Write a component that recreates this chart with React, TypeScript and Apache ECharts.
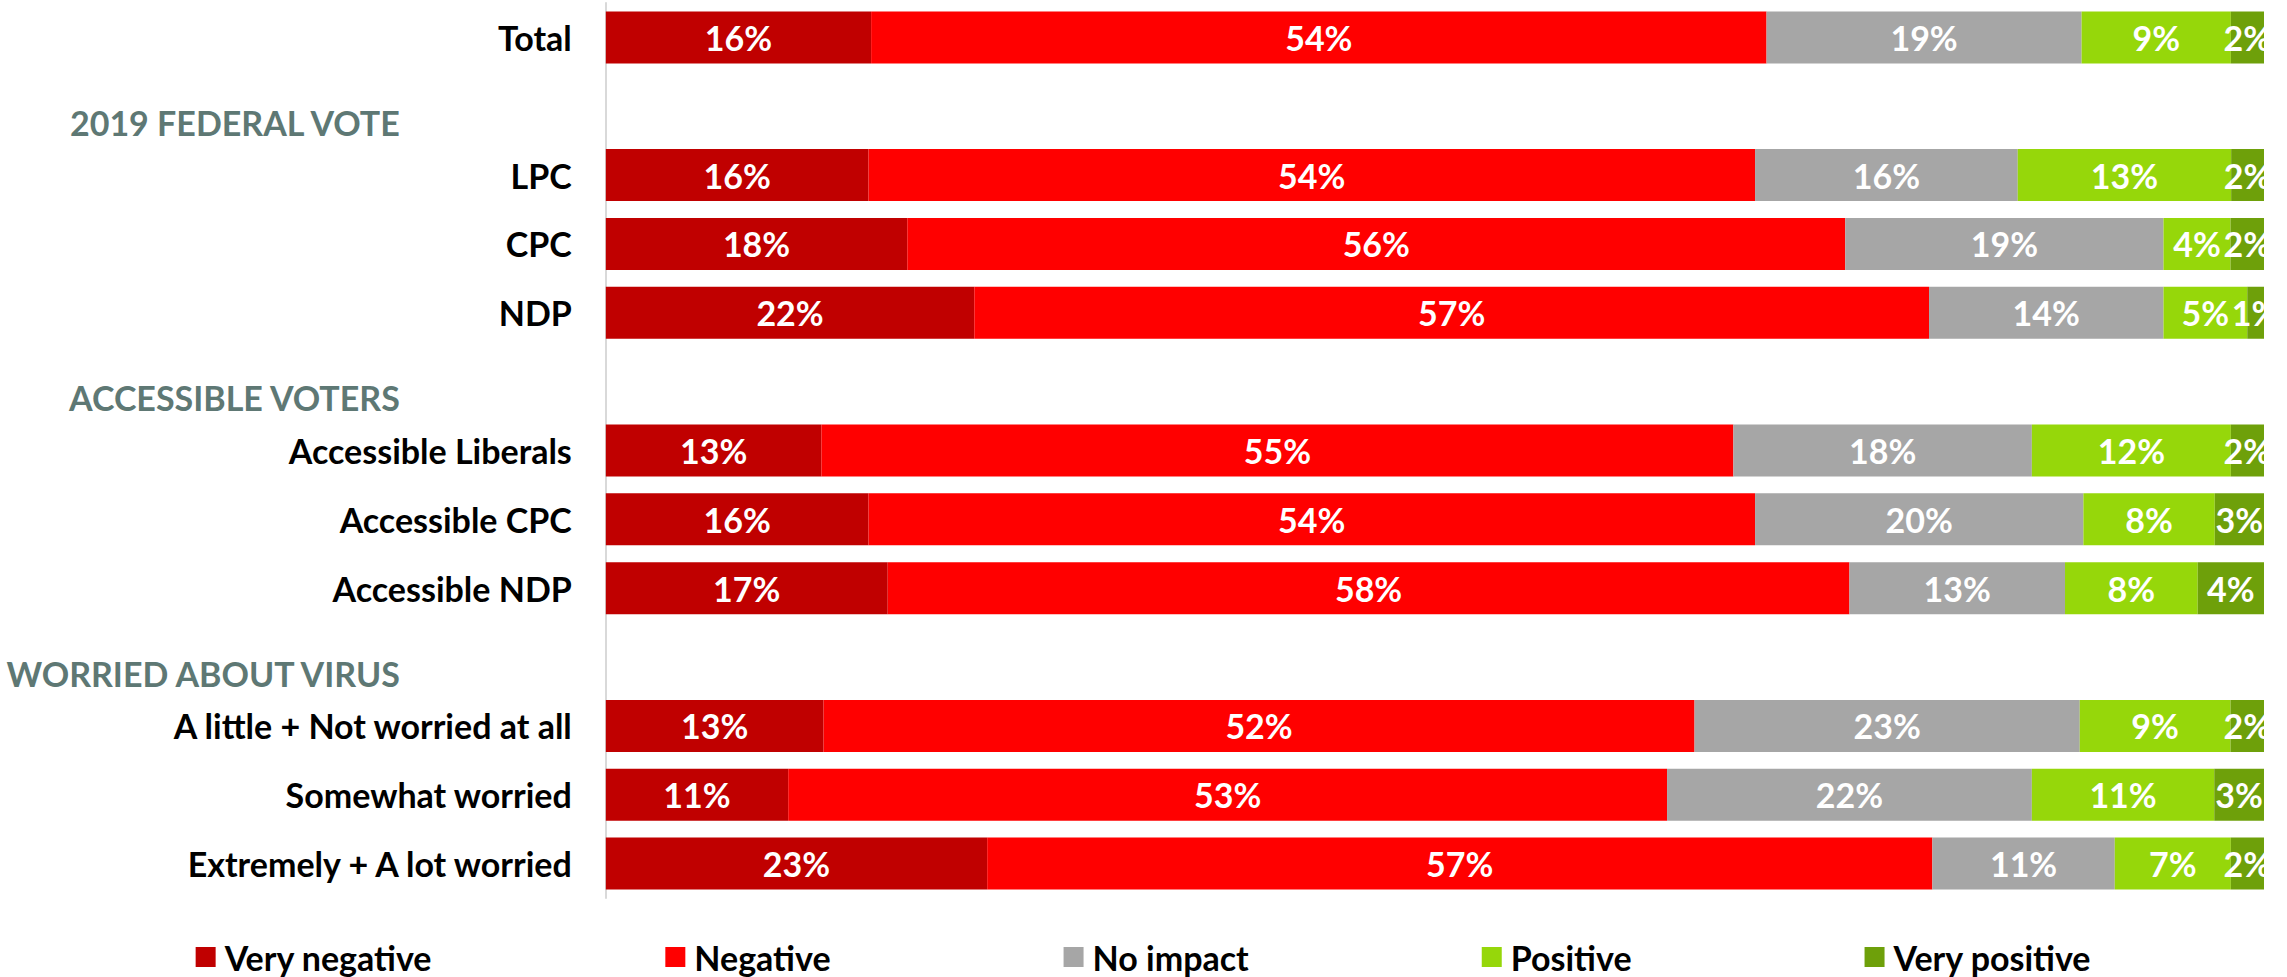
import React, { useEffect, useRef } from "react";
import * as echarts from "echarts";

const categories = [
  "Total",
  "2019 FEDERAL VOTE",
  "LPC",
  "CPC",
  "NDP",
  "ACCESSIBLE VOTERS",
  "Accessible Liberals",
  "Accessible CPC",
  "Accessible NDP",
  "WORRIED ABOUT VIRUS",
  "A little + Not worried at all",
  "Somewhat worried",
  "Extremely + A lot worried",
];
const headers = ["2019 FEDERAL VOTE", "ACCESSIBLE VOTERS", "WORRIED ABOUT VIRUS"];

const seriesNames = ["Very negative", "Negative", "No impact", "Positive", "Very positive"];
const veryNegative = [16, null, 16, 18, 22, null, 13, 16, 17, null, 13, 11, 23];
const negative = [54, null, 54, 56, 57, null, 55, 54, 58, null, 52, 53, 57];
const noImpact = [19, null, 16, 19, 14, null, 18, 20, 13, null, 23, 22, 11];
const positive = [9, null, 13, 4, 5, null, 12, 8, 8, null, 9, 11, 7];
const veryPositive = [2, null, 2, 2, 1, null, 2, 3, 4, null, 2, 3, 2];
const colors = ["#c00000", "#ff0000", "#a6a6a6", "#96d70a", "#6ea00a"];

const raw = [veryNegative, negative, noImpact, positive, veryPositive];

export default function App() {
  const ref = useRef<HTMLDivElement>(null);
  useEffect(() => {
    if (!ref.current) return;
    const chart = echarts.init(ref.current, undefined, { renderer: "svg" });
    const rowSums = categories.map((_, i) =>
      raw.reduce((s, arr) => s + (arr[i] == null ? 0 : (arr[i] as number)), 0)
    );
    const series = raw.map((arr, si) => ({
      name: seriesNames[si],
      type: "bar",
      stack: "all",
      barWidth: 52,
      itemStyle: { color: colors[si] },
      label: {
        show: true,
        position: "inside",
        color: "#ffffff",
        fontFamily: "Lato",
        fontWeight: "bold",
        fontSize: 34,
        formatter: (p: any) => {
          const v = raw[p.seriesIndex][p.dataIndex];
          return v == null ? "" : v + "%";
        },
      },
      data: arr.map((v, i) => (v == null ? null : (v / rowSums[i]) * 100)),
    }));
    chart.setOption({
      animation: false,
      backgroundColor: "#ffffff",
      grid: { left: 599, right: 23, top: 3, height: 895, containLabel: false },
      xAxis: { type: "value", min: 0, max: 100, show: false },
      yAxis: {
        type: "category",
        data: categories,
        inverse: true,
        axisTick: { show: false },
        axisLine: { show: true, lineStyle: { color: "#d9d9d9", width: 2 } },
        axisLabel: {
          margin: 34,
          formatter: (v: string) => (headers.includes(v) ? `{h|${v}}` : `{c|${v}}`),
          rich: {
            c: {
              fontFamily: "Lato",
              fontWeight: "bold",
              fontSize: 34,
              color: "#000000",
            },
            h: {
              fontFamily: "Lato",
              fontWeight: "bold",
              fontSize: 34,
              color: "#5e7874",
              padding: [32, 172, 0, 0],
            },
          },
        },
      },
      legend: {
        top: 940,
        left: "center",
        padding: 0,
        icon: "rect",
        itemWidth: 20,
        itemHeight: 20,
        itemGap: 233,
        textStyle: {
          fontFamily: "Lato",
          fontWeight: "bold",
          fontSize: 34,
          lineHeight: 34,
          color: "#000000",
          padding: [0, 0, 0, 4],
        },
        data: seriesNames,
      },
      series,
    });
    return () => chart.dispose();
  }, []);
  return (
    <div
      ref={ref}
      style={{ position: "fixed", left: 0, top: 0, width: 2287, height: 977, background: "#fff" }}
    />
  );
}
